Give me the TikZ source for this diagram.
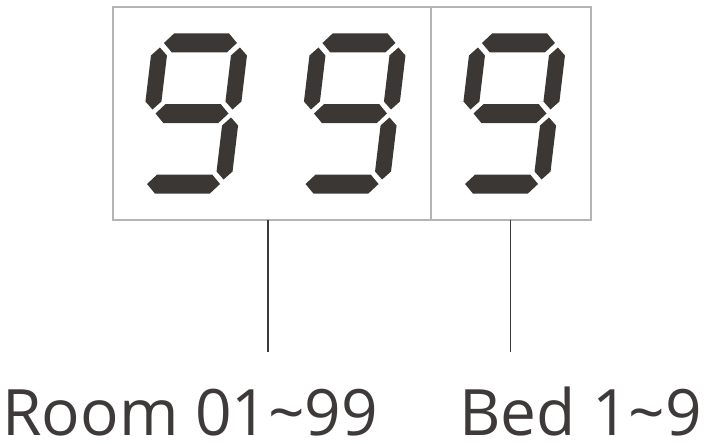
\documentclass[tikz,border=0pt]{standalone}
\usepackage{fontspec}
\setmainfont{Open Sans}
\definecolor{segcol}{HTML}{3B3735}
\definecolor{txtcol}{HTML}{3D3A39}
\definecolor{boxcol}{HTML}{B4B4B4}
\definecolor{leadcol}{HTML}{3A3A3A}
\newcommand\hsegment[1]{\fill[segcol, shift={(0,#1)}] (-36.5,0) -- (-27.5,-9.5) -- (27.5,-9.5) -- (36.5,0) -- (27.5,9.5) -- (-27.5,9.5) -- cycle;}
\newcommand\vsegment[2]{\fill[segcol, shift={(#1,#2)}] (0,-31) -- (8,-23) -- (8,23) -- (0,31) -- (-8,23) -- (-8,-23) -- cycle;}
\newcommand\ninedigit[2]{%
  \begin{scope}[shift={(#1,#2)}, xslant=0.12]
    \hsegment{-70.5}
    \hsegment{0}
    \hsegment{70.5}
    \vsegment{-40}{-35}
    \vsegment{40}{-35}
    \vsegment{39.5}{35}
  \end{scope}}
\begin{document}
\begin{tikzpicture}[x=1pt,y=-1pt,
  frame/.style={draw=boxcol, line width=1.4pt},
  lead/.style={draw=leadcol, line width=1.3pt},
  caption/.style={font=\fontsize{64}{64}\selectfont, text=txtcol, inner sep=0pt, text depth=0pt, anchor=base west}]
\useasboundingbox (0,0) rectangle (715,444);
% frame
\coordinate (tl) at (113,7);
\coordinate (br) at (591,220);
\coordinate (dtop) at (431,7);
\coordinate (dbot) at (431,220);
\draw[frame] (tl) rectangle (br);
\draw[frame] (dtop) -- (dbot);
% digits
\ninedigit{192}{113.5}
\ninedigit{350.5}{113.5}
\ninedigit{510}{113.5}
% labels
\node[caption] (room) at (2,435.5) {Room 01\textasciitilde 99};
\node[caption] (bed) at (459,435.5) {Bed 1\textasciitilde 9};
% leaders
\coordinate (r1) at (268,220);
\coordinate (r2) at (268,352);
\coordinate (b1) at (510.5,220);
\coordinate (b2) at (510.5,352);
\draw[lead] (r1) -- (r2);
\draw[lead] (b1) -- (b2);
\end{tikzpicture}
\end{document}
